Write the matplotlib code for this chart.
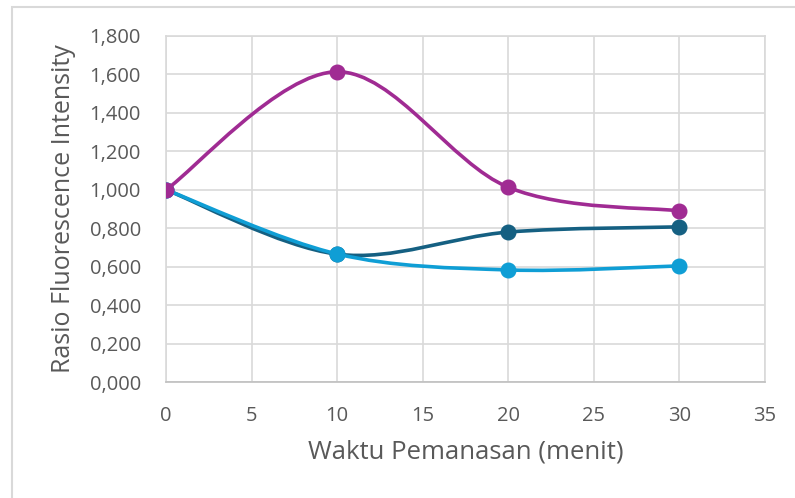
import matplotlib.pyplot as plt
from matplotlib.path import Path
from matplotlib.patches import PathPatch, Rectangle
from matplotlib.ticker import FuncFormatter

plt.rcParams['font.family'] = ['Open Sans', 'DejaVu Sans']

waktu = [0, 10, 20, 30]
seri_biru_tua = [1.000, 0.665, 0.780, 0.807]
seri_biru_muda = [1.000, 0.666, 0.583, 0.604]
seri_ungu = [1.000, 1.614, 1.013, 0.890]

warna = ['#156082', '#0F9ED5', '#A02B93']
abu = '#595959'
grid = '#D9D9D9'


def smooth_path(xs, ys):
    # excel-style smoothing: bezier segments with tension 1/6
    pts = list(zip(xs, ys))
    n = len(pts)
    verts = [pts[0]]
    codes = [Path.MOVETO]
    for i in range(n - 1):
        p0 = pts[i - 1] if i > 0 else pts[i]
        p1 = pts[i]
        p2 = pts[i + 1]
        p3 = pts[i + 2] if i + 2 < n else pts[i + 1]
        c1 = (p1[0] + (p2[0] - p0[0]) / 6, p1[1] + (p2[1] - p0[1]) / 6)
        c2 = (p2[0] - (p3[0] - p1[0]) / 6, p2[1] - (p3[1] - p1[1]) / 6)
        verts += [c1, c2, p2]
        codes += [Path.CURVE4] * 3
    return Path(verts, codes)


fig = plt.figure(figsize=(7.95, 4.98), dpi=100)
ax = fig.add_axes([166 / 795, 1 - 382 / 498, (765 - 166) / 795, (382 - 36) / 498])

fig.patches.append(Rectangle((12 / 795, -0.1), 1.0, 1 - 7 / 498 + 0.1, transform=fig.transFigure,
                             fill=False, edgecolor=grid, linewidth=1.5))

for i, ys in enumerate([seri_biru_tua, seri_biru_muda, seri_ungu]):
    ax.add_patch(PathPatch(smooth_path(waktu, ys), fill=False, edgecolor=warna[i],
                           linewidth=2.6, capstyle='round', zorder=3 + i))
    ax.plot(waktu, ys, linestyle='none', marker='o', markersize=10.5,
            color=warna[i], zorder=3 + i)

ax.set_xlim(0, 35)
ax.set_ylim(0, 1.8)
ax.set_xticks(range(0, 36, 5))
ax.set_yticks([i * 0.2 for i in range(10)])
ax.yaxis.set_major_formatter(FuncFormatter(lambda v, p: ('%.3f' % v).replace('.', ',')))
ax.grid(True, color=grid, linewidth=1.2)
ax.set_axisbelow(True)
for s in ax.spines.values():
    s.set_color(grid)
    s.set_linewidth(1.2)
ax.spines['bottom'].set_color('#BFBFBF')
ax.tick_params(length=0, colors=abu, labelsize=14.5, pad=18)
ax.tick_params(axis='x', pad=17)
ax.set_xlabel('Waktu Pemanasan (menit)', color=abu, fontsize=18.5, labelpad=10)
ax.set_ylabel('Rasio Fluorescence Intensity', color=abu, fontsize=18, labelpad=10)

fig.savefig('out.png', dpi=100)
